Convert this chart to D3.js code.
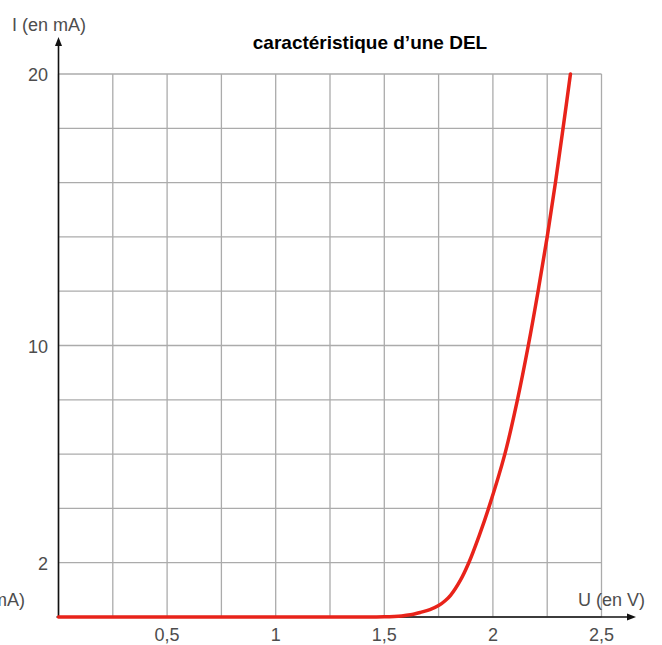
<!DOCTYPE html>
<html>
<head>
  <meta charset="utf-8">
  <script src="https://d3js.org/d3.v7.min.js"></script>
  <style>
    body { margin: 0; background: #fff; }
    text { font-family: "Liberation Sans", Arial, Helvetica, sans-serif; }
  </style>
</head>
<body>
<script>
  // tension U (V) / intensite I (mA)
  var tensions = [0, 1.0, 1.5, 1.58, 1.62, 1.667, 1.71, 1.75, 1.78, 1.805, 1.85, 1.889, 1.937, 1.98, 2.055, 2.113, 2.163, 2.208, 2.25, 2.288, 2.323, 2.357];
  var intensites = [0, 0, 0.01, 0.04, 0.08, 0.17, 0.27, 0.42, 0.6, 0.8, 1.35, 2, 3, 4, 6, 8, 10, 12, 14, 16, 18, 20];
  var xTickLabels = [0.5, 1, 1.5, 2, 2.5];
  var yTickLabels = [2, 10, 20];
  var xGrid = d3.range(0, 11).map(function (i) { return i * 0.25; });
  var yGrid = d3.range(0, 11).map(function (i) { return i * 2; });

  var width = 662, height = 645;
  var svg = d3.select("body").append("svg")
      .attr("width", width)
      .attr("height", height);

  var x = d3.scaleLinear().domain([0, 2.5]).range([58.5, 601.5]);
  var y = d3.scaleLinear().domain([0, 20]).range([617, 74]);

  // grille
  svg.append("g").selectAll("line").data(xGrid).enter().append("line")
      .attr("x1", function (d) { return x(d); })
      .attr("x2", function (d) { return x(d); })
      .attr("y1", y(0)).attr("y2", y(20))
      .style("stroke", "#ababab").style("stroke-width", 1.3);
  svg.append("g").selectAll("line").data(yGrid).enter().append("line")
      .attr("y1", function (d) { return y(d); })
      .attr("y2", function (d) { return y(d); })
      .attr("x1", x(0)).attr("x2", x(2.5))
      .style("stroke", "#ababab").style("stroke-width", 1.3);

  // axes avec fleches
  svg.append("line")
      .attr("x1", x(0)).attr("y1", y(0)).attr("x2", x(0)).attr("y2", 44)
      .style("stroke", "#111").style("stroke-width", 1.6);
  svg.append("path")
      .attr("d", "M" + x(0) + ",37 l-3.5,9 l7,0 z")
      .style("fill", "#111");
  svg.append("line")
      .attr("x1", x(0) - 2).attr("y1", y(0)).attr("x2", 629).attr("y2", y(0))
      .style("stroke", "#111").style("stroke-width", 1.6);
  svg.append("path")
      .attr("d", "M636," + y(0) + " l-9,-3.5 l0,7 z")
      .style("fill", "#111");

  // graduations
  svg.append("g").selectAll("text").data(xTickLabels).enter().append("text")
      .attr("x", function (d) { return x(d); })
      .attr("y", 641)
      .attr("text-anchor", "middle")
      .style("font-size", "18px").style("fill", "#4d4d4d")
      .text(function (d) { return String(d).replace(".", ","); });
  svg.append("g").selectAll("text").data(yTickLabels).enter().append("text")
      .attr("x", 48)
      .attr("y", function (d) { return y(d) + 7; })
      .attr("text-anchor", "end")
      .style("font-size", "18px").style("fill", "#4d4d4d")
      .text(function (d) { return d; });

  // titres des axes
  svg.append("text").attr("x", 12).attr("y", 31)
      .style("font-size", "18px").style("fill", "#4d4d4d")
      .text("I (en mA)");
  // libelle rogne a gauche, comme sur l'original
  svg.append("text").attr("x", 25).attr("y", 606)
      .attr("text-anchor", "end")
      .style("font-size", "18px").style("fill", "#4d4d4d")
      .text("I (en mA)");
  svg.append("text").attr("x", 578).attr("y", 606)
      .style("font-size", "18px").style("fill", "#4d4d4d")
      .text("U (en V)");

  svg.append("text").attr("x", 370).attr("y", 49)
      .attr("text-anchor", "middle")
      .style("font-size", "19px").style("font-weight", "bold").style("fill", "#000")
      .text("caractéristique d’une DEL");

  // caracteristique
  var pts = tensions.map(function (u, i) { return [u, intensites[i]]; });
  var line = d3.line()
      .x(function (d) { return x(d[0]); })
      .y(function (d) { return y(Math.max(0, d[1])); })
      .curve(d3.curveCatmullRom.alpha(0.5));
  svg.append("path")
      .datum(pts)
      .attr("d", line)
      .style("fill", "none")
      .style("stroke", "#e8231a")
      .style("stroke-width", 3.5)
      .style("stroke-linecap", "round");
</script>
</body>
</html>
